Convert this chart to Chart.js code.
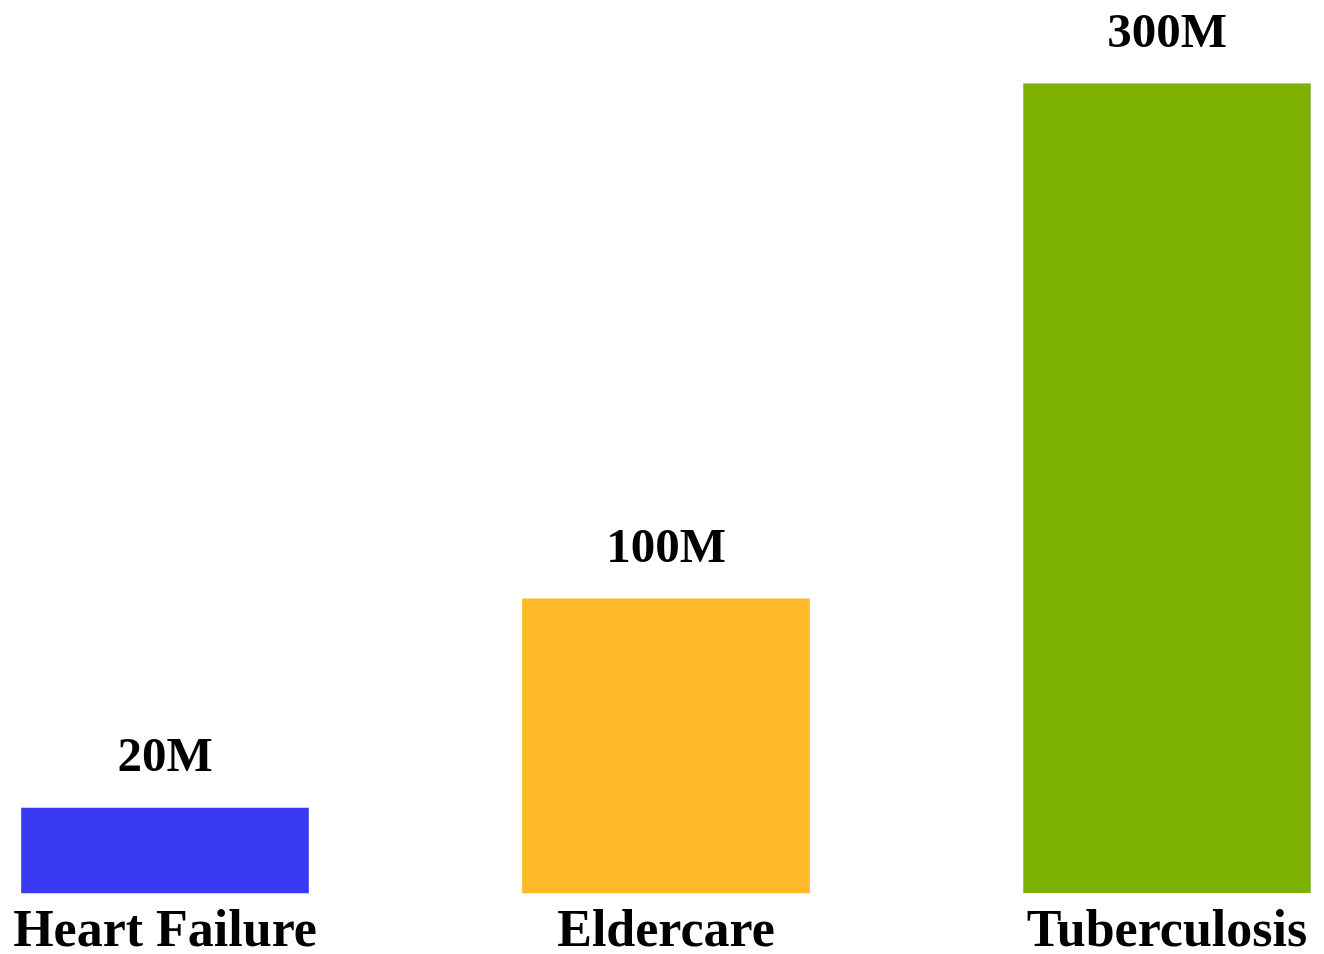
<!DOCTYPE html>
<html>
<head>
<meta charset="utf-8">
<script src="https://cdn.jsdelivr.net/npm/chart.js@4/dist/chart.umd.min.js"></script>
<style>
  html, body { margin: 0; padding: 0; background: #fff; }
  canvas { display: block; }
</style>
</head>
<body>
<canvas id="myChart" width="1324" height="954"></canvas>
<script>
// categories, bar heights as drawn (the bars are not to scale), and the printed labels
const categories = ['Heart Failure', 'Eldercare', 'Tuberculosis'];
const barHeights = [31.5, 109, 300];
const valueLabels = ['20M', '100M', '300M'];
const barColors = ['#3a3af2', '#fdb927', '#7db300'];
const barBorders = ['#3a3af2', '#fdb927', '#7a9a2e'];

const serif = '"Liberation Serif", "DejaVu Serif", serif';

// draws value labels above bars and category names under them
const labelPlugin = {
  id: 'labels',
  afterDatasetsDraw(chart) {
    const ctx = chart.ctx;
    const meta = chart.getDatasetMeta(0);
    ctx.save();
    ctx.fillStyle = '#000';
    ctx.textAlign = 'center';
    ctx.textBaseline = 'alphabetic';
    meta.data.forEach((bar, i) => {
      ctx.font = 'bold 49px ' + serif;
      ctx.fillText(valueLabels[i], bar.x, bar.y - 37);
      ctx.font = 'bold 52px ' + serif;
      ctx.fillText(categories[i], bar.x, chart.chartArea.bottom + 53);
    });
    ctx.restore();
  }
};

let ctx = document.getElementById('myChart').getContext('2d');
let chart = new Chart(ctx, {
  type: 'bar',
  data: {
    labels: categories,
    datasets: [
      {
        data: barHeights,
        backgroundColor: barColors,
        borderColor: barBorders,
        borderWidth: [0, 0, 1],
        barThickness: 287,
        clip: false
      }
    ]
  },
  options: {
    responsive: false,
    animation: false,
    layout: { padding: { left: 165, right: 157, top: 0, bottom: 61 } },
    plugins: {
      legend: { display: false },
      tooltip: { enabled: false }
    },
    scales: {
      x: {
        display: false,
        offset: false
      },
      y: {
        display: false,
        min: 0,
        max: 331
      }
    }
  },
  plugins: [labelPlugin]
});
</script>
</body>
</html>
